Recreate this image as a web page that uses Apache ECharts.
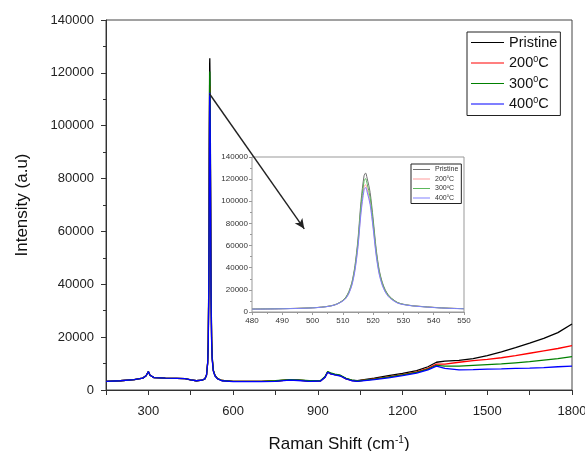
<!DOCTYPE html>
<html>
<head>
<meta charset="utf-8">
<title>Raman spectra</title>
<script src="https://cdn.jsdelivr.net/npm/echarts@6/dist/echarts.min.js"></script>
<style>
  html, body { margin: 0; padding: 0; background: #ffffff; }
  #chart { width: 585px; height: 451px; }
</style>
</head>
<body>
<div id="chart"></div>
<script>
// Raman shift (cm-1) sample points for the full spectra
const shiftMain = [150, 200, 250, 280, 292, 300, 306, 320, 360, 400, 430, 450, 470, 490, 500, 506,
  510, 512, 514, 515, 516, 517, 517.5, 518, 519, 520, 522, 524, 526, 530, 536, 545, 560, 600,
  700, 750, 800, 830, 870, 910, 925, 935, 945, 960, 980, 1000, 1020, 1040, 1100, 1150, 1200,
  1250, 1290, 1320, 1350, 1400, 1450, 1500, 1550, 1600, 1650, 1700, 1750, 1800];

const pristineMain = [3300, 3500, 3900, 4500, 5400, 7000, 5600, 4700, 4500, 4400, 4300, 3800, 3500, 3700, 4200, 5800,
  10500, 18600, 42000, 66000, 100000, 123000, 125500, 121000, 108000, 84000, 38000, 20000, 12600, 7500, 5500, 4300, 3600, 3300,
  3300, 3400, 3800, 3700, 3400, 3500, 4800, 6800, 6200, 5800, 5400, 4300, 3700, 3500, 4500, 5400, 6300,
  7300, 8800, 10500, 10900, 11200, 11900, 13000, 14400, 16000, 17700, 19500, 21700, 25000];

const t200Main = [3300, 3500, 3900, 4500, 5400, 7000, 5600, 4700, 4500, 4400, 4300, 3800, 3500, 3700, 4200, 5700,
  10200, 17200, 38500, 60500, 92000, 113000, 115000, 111000, 99000, 77000, 35000, 18500, 11800, 7300, 5400, 4300, 3600, 3300,
  3300, 3400, 3800, 3700, 3400, 3500, 4800, 6800, 6200, 5800, 5400, 4200, 3600, 3400, 4200, 5000, 5800,
  6900, 8200, 9800, 9800, 10500, 11100, 11600, 12200, 13000, 13900, 14800, 15700, 16800];

const t300Main = [3300, 3500, 3900, 4500, 5400, 7000, 5600, 4700, 4500, 4400, 4300, 3800, 3500, 3700, 4200, 5700,
  10300, 17900, 40300, 63400, 96000, 118000, 120500, 116000, 103500, 80600, 36500, 19200, 12200, 7400, 5400, 4300, 3600, 3300,
  3300, 3500, 3900, 3800, 3500, 3600, 5000, 7000, 6500, 6000, 5600, 4400, 3700, 3400, 4100, 4900, 5700,
  6700, 7900, 9300, 9000, 9000, 9300, 9600, 9900, 10300, 10700, 11300, 11900, 12600];

const t400Main = [3300, 3500, 3900, 4500, 5400, 7000, 5600, 4700, 4500, 4400, 4300, 3800, 3500, 3700, 4200, 5600,
  10100, 16800, 37600, 59000, 89500, 110000, 112500, 108500, 97000, 75500, 34000, 18000, 11500, 7200, 5300, 4200, 3500, 3200,
  3200, 3300, 3700, 3600, 3300, 3400, 4700, 6700, 6100, 5700, 5300, 4200, 3500, 3300, 3900, 4600, 5400,
  6400, 7600, 9000, 8200, 7600, 7700, 7900, 8000, 8200, 8300, 8500, 8800, 9000];

// Close-up of the Si band
const shiftInset = [480, 485, 490, 495, 500, 503, 506, 508, 510, 511, 512, 513, 514, 515, 516, 517, 517.5,
  518, 519, 520, 521, 522, 523, 524, 525, 526, 528, 530, 533, 536, 540, 545, 550];

const pristineInset = [2700, 2800, 3000, 3300, 3800, 4400, 5600, 7300, 10500, 13500, 18600, 27000, 42000, 66000, 100000, 123000, 125500,
  121000, 108000, 84000, 57000, 38000, 27000, 20000, 15500, 12600, 8700, 7000, 5700, 5000, 4200, 3400, 3000];
const t200Inset = [2700, 2800, 3000, 3300, 3800, 4400, 5500, 7000, 10000, 12500, 17200, 25000, 38500, 60500, 92000, 113000, 115000,
  111000, 99000, 77000, 52500, 35000, 25000, 18500, 14500, 11800, 8300, 6800, 5600, 4900, 4100, 3400, 3000];
const t300Inset = [2700, 2800, 3000, 3300, 3800, 4400, 5500, 7100, 10200, 13000, 17900, 26000, 40300, 63400, 96000, 118000, 120500,
  116000, 103500, 80600, 54700, 36500, 26000, 19200, 15000, 12200, 8500, 6900, 5600, 4900, 4100, 3400, 3000];
const t400Inset = [2600, 2700, 2900, 3200, 3700, 4300, 5400, 7000, 9900, 12300, 16800, 24300, 37600, 59000, 89500, 110000, 112500,
  108500, 97000, 75500, 51000, 34000, 24200, 18000, 14000, 11500, 8100, 6700, 5500, 4800, 4000, 3300, 2900];

// Arrow from the main peak towards the close-up (data coordinates)
const arrowFrom = [517, 112000];
const arrowTo = [852, 61000];

const legendNames = ['Pristine', '200', '300', '400'];
const mainColors = ['#000000', '#ff0000', '#008000', '#0000ff'];
const insetColors = ['#707070', '#ff9a9a', '#5cb85c', '#8080ff'];

const pair = (xs, ys) => xs.map((x, i) => [x, ys[i]]);
const FONT = '"Liberation Sans", Arial, sans-serif';

function legendLabel(name) {
  const base = name.replace(' inset', '');
  if (base === 'Pristine') return '{n|Pristine}';
  return '{n|' + base + '}{s|0}{n|C}';
}

const mainData = [pristineMain, t200Main, t300Main, t400Main];
const insetData = [pristineInset, t200Inset, t300Inset, t400Inset];

const series = [];
mainData.forEach((ys, i) => {
  const s = {
    name: legendNames[i],
    type: 'line',
    xAxisIndex: 0, yAxisIndex: 0,
    data: pair(shiftMain, ys),
    showSymbol: false,
    lineStyle: { color: mainColors[i], width: 1.3 },
    itemStyle: { color: mainColors[i] },
    z: 2 + i
  };
  if (i === 3) {
    s.markLine = {
      silent: true,
      symbol: ['none', 'arrow'],
      symbolSize: [7, 10],
      label: { show: false },
      lineStyle: { color: '#222', width: 1.4, type: 'solid' },
      data: [[{ coord: arrowFrom }, { coord: arrowTo }]],
      z: 20
    };
  }
  series.push(s);
});
insetData.forEach((ys, i) => {
  series.push({
    name: legendNames[i] + ' inset',
    type: 'line',
    xAxisIndex: 1, yAxisIndex: 1,
    data: pair(shiftInset, ys),
    showSymbol: false,
    smooth: 0.3,
    lineStyle: { color: insetColors[i], width: 1 },
    itemStyle: { color: insetColors[i] },
    z: 10 + i
  });
});

const plain = v => String(v);

const chart = echarts.init(document.getElementById('chart'), null, { renderer: 'canvas' });
chart.setOption({
  animation: false,
  backgroundColor: '#ffffff',
  textStyle: { fontFamily: FONT },
  grid: [
    { left: 106, top: 20, right: 13, bottom: 61, outerBoundsMode: 'none', containLabel: false,
      show: true, borderColor: '#444', borderWidth: 1, backgroundColor: 'transparent' },
    { left: 252, top: 157, right: 121, bottom: 139, outerBoundsMode: 'none', containLabel: false,
      show: true, borderColor: '#999', borderWidth: 1, backgroundColor: '#ffffff', z: 5 }
  ],
  xAxis: [
    {
      type: 'value', gridIndex: 0, min: 150, max: 1800, interval: 150,
      name: '{n|Raman Shift (cm}{s|-1}{n|)}', nameLocation: 'middle', nameGap: 45,
      nameTextStyle: {
        rich: {
          n: { fontSize: 17, color: '#111', fontFamily: FONT },
          s: { fontSize: 10, color: '#111', fontFamily: FONT, verticalAlign: 'top', padding: [0, 0, 8, 0] }
        }
      },
      axisLine: { lineStyle: { color: '#333', width: 1 } },
      axisTick: { show: true, inside: false, length: 5, lineStyle: { color: '#333' } },
      axisLabel: { fontSize: 13, color: '#222', margin: 15, formatter: v => (v % 300 === 0 ? String(v) : '') },
      splitLine: { show: false }
    },
    {
      type: 'value', gridIndex: 1, min: 480, max: 550, interval: 10,
      axisLine: { lineStyle: { color: '#999', width: 1 } },
      axisTick: { show: true, length: 3, lineStyle: { color: '#999' } },
      minorTick: { show: true, splitNumber: 2, length: 2, lineStyle: { color: '#999' } },
      axisLabel: { fontSize: 8, color: '#333', margin: 5, formatter: plain },
      splitLine: { show: false }
    }
  ],
  yAxis: [
    {
      type: 'value', gridIndex: 0, min: 0, max: 140000, interval: 20000,
      name: 'Intensity (a.u)', nameLocation: 'middle', nameGap: 75, nameRotate: 90,
      nameTextStyle: { fontSize: 17, color: '#111', fontFamily: FONT },
      axisLine: { show: true, lineStyle: { color: '#333', width: 1 } },
      axisTick: { show: true, length: 5, lineStyle: { color: '#333' } },
      minorTick: { show: true, splitNumber: 2, length: 3, lineStyle: { color: '#333' } },
      axisLabel: { fontSize: 13, color: '#222', margin: 12, formatter: plain },
      splitLine: { show: false }
    },
    {
      type: 'value', gridIndex: 1, min: 0, max: 140000, interval: 20000,
      axisLine: { show: true, lineStyle: { color: '#999', width: 1 } },
      axisTick: { show: true, length: 3, lineStyle: { color: '#999' } },
      minorTick: { show: true, splitNumber: 2, length: 2, lineStyle: { color: '#999' } },
      axisLabel: { fontSize: 8, color: '#333', margin: 4, formatter: plain },
      splitLine: { show: false }
    }
  ],
  legend: [
    {
      data: legendNames,
      orient: 'vertical',
      left: 467, top: 32,
      icon: 'rect', itemWidth: 33, itemHeight: 1.2, itemGap: 5,
      padding: [3, 3, 4, 4],
      borderColor: '#222', borderWidth: 1, backgroundColor: '#ffffff',
      selectedMode: false,
      formatter: legendLabel,
      textStyle: {
        rich: {
          n: { fontSize: 14.5, color: '#111', fontFamily: FONT, lineHeight: 16 },
          s: { fontSize: 9, color: '#111', fontFamily: FONT, verticalAlign: 'top', padding: [0, 0, 7, 0] }
        }
      }
    },
    {
      data: legendNames.map(n => n + ' inset'),
      orient: 'vertical',
      left: 411, top: 164,
      icon: 'rect', itemWidth: 17, itemHeight: 1, itemGap: 2,
      padding: [2, 3, 2, 2],
      borderColor: '#222', borderWidth: 1, backgroundColor: '#ffffff',
      selectedMode: false,
      formatter: legendLabel,
      z: 30,
      textStyle: {
        rich: {
          n: { fontSize: 7, color: '#333', fontFamily: FONT, lineHeight: 8 },
          s: { fontSize: 4, color: '#333', fontFamily: FONT, verticalAlign: 'top', padding: [0, 0, 3, 0] }
        }
      }
    }
  ],
  series: series
});
</script>
</body>
</html>
